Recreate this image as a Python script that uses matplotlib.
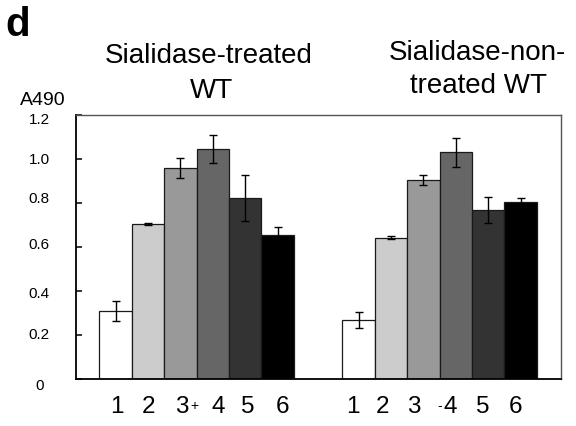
import numpy as np
import matplotlib
matplotlib.use("Agg")
import matplotlib.pyplot as plt
from matplotlib.transforms import ScaledTranslation

plt.rcParams['font.family'] = ['Liberation Sans', 'DejaVu Sans']

# ---------------- data ----------------
categories = ['1', '2', '3', '4', '5', '6']
treated_means = [0.307, 0.704, 0.959, 1.043, 0.820, 0.652]
treated_err = [0.045, 0.003, 0.046, 0.063, 0.104, 0.036]
nontreated_means = [0.266, 0.642, 0.904, 1.029, 0.767, 0.804]
nontreated_err = [0.036, 0.008, 0.022, 0.066, 0.059, 0.020]
bar_colors = ['#ffffff', '#cccccc', '#999999', '#666666', '#333333', '#000000']
ytick_values = [0, 0.2, 0.4, 0.6, 0.8, 1.0, 1.2]
ytick_labels = ['0', '0.2', '0.4', '0.6', '0.8', '1.0', '1.2']
group_titles = [('Sialidase-treated', 'WT'), ('Sialidase-non-', 'treated WT')]

# ---------------- figure ----------------
W, H = 576, 427
fig = plt.figure(figsize=(W / 100, H / 100), dpi=100)
ax = fig.add_axes([76 / W, 1 - 380 / H, (561 - 76) / W, (380 - 115.7) / H])

x_left = np.arange(len(categories))
x_right = np.arange(len(categories)) + 7.5

for xs, means, errs in [(x_left, treated_means, treated_err),
                        (x_right, nontreated_means, nontreated_err)]:
    ax.bar(xs, means, width=1.0, color=bar_colors, edgecolor='#1a1a1a',
           linewidth=0.9, zorder=2)
    ax.errorbar(xs, means, yerr=errs, fmt='none', ecolor='black',
                elinewidth=1.0, capsize=3.2, capthick=1.0, zorder=3)

ax.set_xlim(-1.22, 13.75)
ax.set_ylim(0, 1.2)

# spines
for s in ['left', 'bottom']:
    ax.spines[s].set_color('black')
    ax.spines[s].set_linewidth(1.3)
for s in ['top', 'right']:
    ax.spines[s].set_color('#555555')
    ax.spines[s].set_linewidth(1.0)

# y ticks
ax.set_yticks(ytick_values)
ax.set_yticklabels(ytick_labels)
ax.tick_params(axis='y', direction='in', length=4.5, width=1.1, pad=26.5,
               labelsize=11)
y_offsets_px = {'0': -5, '0.2': 2, '0.4': -0.5, '0.6': 4, '0.8': 6,
                '1.0': 1, '1.2': -2.3}
for lab in ax.get_yticklabels():
    lab.set_horizontalalignment('center')
    dy = y_offsets_px.get(lab.get_text(), 0)
    lab.set_transform(lab.get_transform() +
                      ScaledTranslation(0, dy / 100, fig.dpi_scale_trans))

# x ticks (labels typed slightly off the bar centres in the original)
label_shift = [0.04, 0.03, 0.05, 0.16, 0.08, 0.14,
               -0.17, -0.26, -0.30, -0.18, -0.18, -0.16]
xt = np.concatenate([x_left, x_right]) + np.array(label_shift)
ax.set_xticks(xt)
ax.set_xticklabels(categories + categories)
ax.tick_params(axis='x', length=0, pad=11.5, labelsize=17.5)

# small "+" and "-" marks next to the labels
ax.text(2.42, -0.098, '+', transform=ax.get_xaxis_transform(),
        ha='center', va='center', fontsize=10)
ax.text(10.02, -0.098, '-', transform=ax.get_xaxis_transform(),
        ha='center', va='center', fontsize=10)

# texts placed in pixel positions
def ftext(xp, yp, s, **kw):
    fig.text(xp / W, 1 - yp / H, s, **kw)

ftext(5.5, 36, 'd', fontsize=29, fontweight='bold', ha='left', va='baseline')
ftext(43, 105, 'A490', fontsize=14, ha='center', va='baseline')
ftext(209, 63.3, group_titles[0][0], fontsize=20, ha='center', va='baseline')
ftext(212, 98.3, group_titles[0][1], fontsize=20, ha='center', va='baseline')
ftext(477, 60, group_titles[1][0], fontsize=20, ha='center', va='baseline')
ftext(479, 93, group_titles[1][1], fontsize=20, ha='center', va='baseline')

fig.savefig('out.png', dpi=100)
